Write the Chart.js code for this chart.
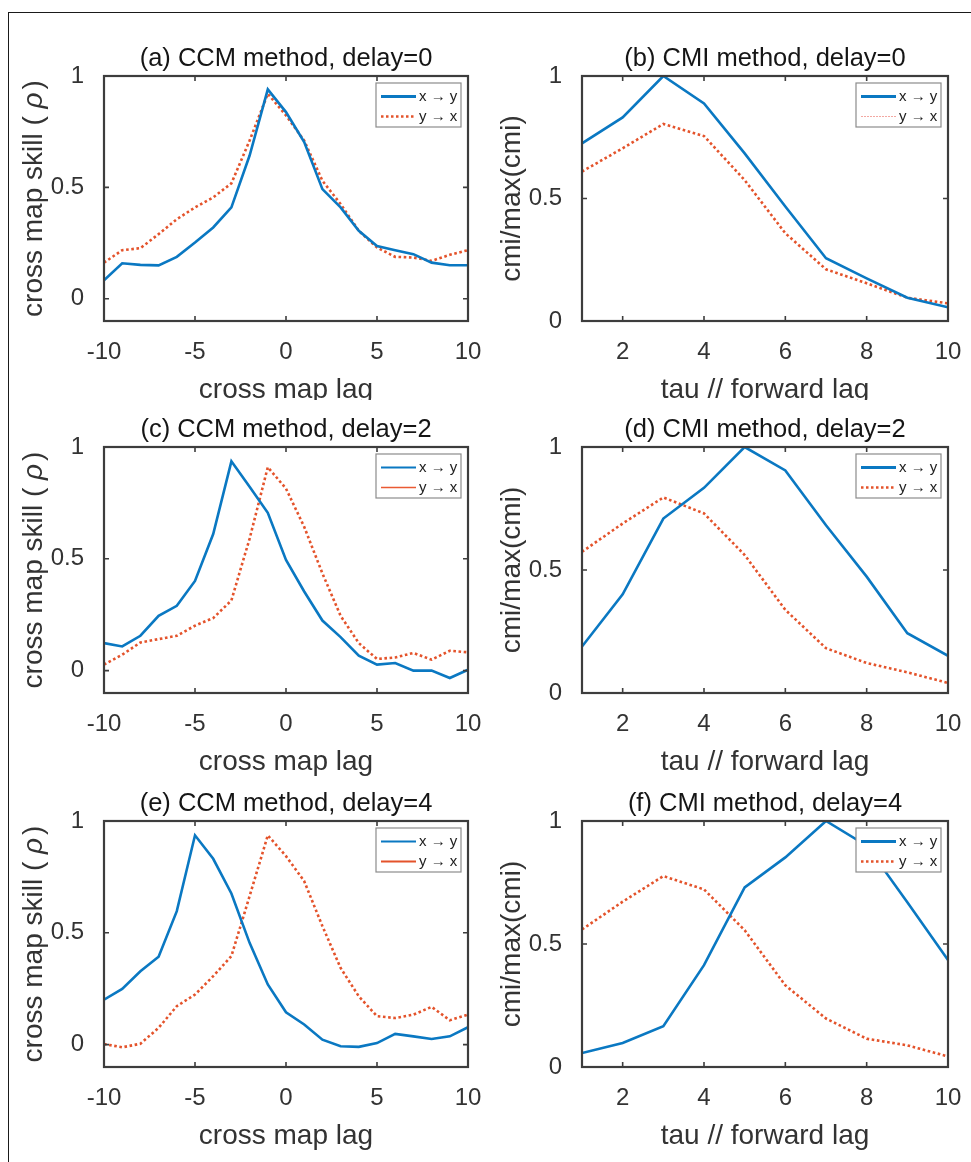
<!DOCTYPE html>
<html>
<head>
<meta charset="utf-8">
<script src="https://cdn.jsdelivr.net/npm/chart.js@4.4.1/dist/chart.umd.min.js"></script>
<style>
  body { margin: 0; background: #fff; }
  #page { position: relative; width: 971px; height: 1162px; overflow: hidden; background: #fff; }
  #frame { position: absolute; left: 8px; top: 12px; width: 980px; height: 1170px;
           border-top: 1px solid #1a1a1a; border-left: 1px solid #1a1a1a; }
  canvas { position: absolute; }
</style>
</head>
<body>
<div id="page">
  <div id="frame"></div>
  <canvas id="ccm0" width="486" height="386" style="left:0;top:14px"></canvas>
  <canvas id="cmi0" width="485" height="386" style="left:486px;top:14px"></canvas>
  <canvas id="ccm2" width="486" height="378" style="left:0;top:400px"></canvas>
  <canvas id="cmi2" width="485" height="378" style="left:486px;top:400px"></canvas>
  <canvas id="ccm4" width="486" height="384" style="left:0;top:778px"></canvas>
  <canvas id="cmi4" width="485" height="384" style="left:486px;top:778px"></canvas>
</div>
<script>
// lags / taus on the x axes
var ccmLags = [-10, -9, -8, -7, -6, -5, -4, -3, -2, -1, 0, 1, 2, 3, 4, 5, 6, 7, 8, 9, 10];
var cmiTaus = [1, 2, 3, 4, 5, 6, 7, 8, 9, 10];

// tick labels
var ccmLagTicks = [-10, -5, 0, 5, 10];
var cmiTauTicks = [2, 4, 6, 8, 10];
var skillTicks = [0, 0.5, 1];

// delay = 0
var ccmXyDelay0 = [0.083, 0.159, 0.152, 0.150, 0.188, 0.252, 0.320, 0.410, 0.643, 0.940, 0.838,
                   0.703, 0.492, 0.410, 0.305, 0.237, 0.218, 0.200, 0.162, 0.150, 0.150];
var ccmYxDelay0 = [0.162, 0.218, 0.227, 0.290, 0.357, 0.410, 0.455, 0.518, 0.710, 0.920, 0.823,
                   0.710, 0.530, 0.425, 0.305, 0.230, 0.188, 0.185, 0.170, 0.197, 0.218];
var cmiXyDelay0 = [0.725, 0.831, 1.000, 0.888, 0.684, 0.467, 0.256, 0.174, 0.095, 0.056];
var cmiYxDelay0 = [0.610, 0.705, 0.804, 0.755, 0.575, 0.358, 0.211, 0.154, 0.095, 0.072];

// delay = 2
var ccmXyDelay2 = [0.123, 0.108, 0.156, 0.245, 0.290, 0.401, 0.611, 0.936, 0.822, 0.706, 0.495,
                   0.354, 0.224, 0.150, 0.067, 0.027, 0.034, 0.000, 0.000, -0.033, 0.004];
var ccmYxDelay2 = [0.027, 0.071, 0.126, 0.141, 0.156, 0.201, 0.235, 0.314, 0.590, 0.910, 0.814,
                   0.643, 0.435, 0.245, 0.123, 0.052, 0.059, 0.079, 0.049, 0.089, 0.082];
var cmiXyDelay2 = [0.189, 0.401, 0.709, 0.834, 1.000, 0.905, 0.682, 0.473, 0.243, 0.151];
var cmiYxDelay2 = [0.574, 0.689, 0.795, 0.730, 0.561, 0.338, 0.182, 0.122, 0.084, 0.041];

// delay = 4
var ccmXyDelay4 = [0.201, 0.249, 0.328, 0.393, 0.597, 0.936, 0.831, 0.676, 0.455, 0.269, 0.145,
                   0.090, 0.022, -0.007, -0.010, 0.007, 0.048, 0.037, 0.025, 0.037, 0.078];
var ccmYxDelay4 = [0.003, -0.012, 0.004, 0.075, 0.172, 0.224, 0.306, 0.396, 0.664, 0.936, 0.843,
                   0.731, 0.530, 0.343, 0.216, 0.127, 0.119, 0.134, 0.169, 0.109, 0.134];
var cmiXyDelay4 = [0.057, 0.098, 0.166, 0.414, 0.730, 0.852, 1.000, 0.900, 0.670, 0.435];
var cmiYxDelay4 = [0.559, 0.672, 0.776, 0.722, 0.556, 0.332, 0.197, 0.115, 0.088, 0.043];

var BLUE = '#0a78c2';
var RED = '#e4532b';
var AXIS_GREY = '#3d3d3d';
var TEXT_GREY = '#333333';
var FONT = '"Liberation Sans", Arial, Helvetica, sans-serif';

// legend samples (each panel was saved with slightly different legend lines)
var legendThickDotted = [
    { label: 'x \u2192 y', color: BLUE, width: 3, dash: [] },
    { label: 'y \u2192 x', color: RED, width: 2.5, dash: [2.5, 2.5] }
];
var legendFaint = [
    { label: 'x \u2192 y', color: BLUE, width: 3, dash: [] },
    { label: 'y \u2192 x', color: 'rgba(235,110,100,0.6)', width: 1, dash: [2, 1] }
];
var legendThin = [
    { label: 'x \u2192 y', color: BLUE, width: 2, dash: [] },
    { label: 'y \u2192 x', color: '#ea5a33', width: 1.6, dash: [] }
];
var legendSolid = [
    { label: 'x \u2192 y', color: BLUE, width: 2, dash: [] },
    { label: 'y \u2192 x', color: RED, width: 2, dash: [] }
];

function seriesPoints(xs, ys) {
    return xs.map(function (x, i) { return { x: x, y: ys[i] }; });
}

function drawLegend(ctx, area, entries) {
    var w = 85, h = 44;
    var left = area.right - 7 - w, top = area.top + 7;
    ctx.fillStyle = '#ffffff';
    ctx.fillRect(left, top, w, h);
    ctx.strokeStyle = '#8c8c8c';
    ctx.lineWidth = 1.2;
    ctx.setLineDash([]);
    ctx.strokeRect(left, top, w, h);
    entries.forEach(function (e, i) {
        var y = top + 13.5 + i * 20;
        ctx.strokeStyle = e.color;
        ctx.lineWidth = e.width;
        ctx.setLineDash(e.dash);
        ctx.beginPath();
        ctx.moveTo(left + 5, y);
        ctx.lineTo(left + 40, y);
        ctx.stroke();
        ctx.setLineDash([]);
        ctx.fillStyle = '#222';
        ctx.font = '15px ' + FONT;
        ctx.textAlign = 'left';
        ctx.textBaseline = 'middle';
        ctx.fillText(e.label, left + 43, y);
    });
}

var panelDecor = {
    id: 'panelDecor',
    afterDatasetsDraw: function (chart, args, o) {
        var ctx = chart.ctx, a = chart.chartArea;
        var xs = chart.scales.x, ys = chart.scales.y;
        ctx.save();
        // ticks point inwards, on every side of the box
        ctx.strokeStyle = AXIS_GREY;
        ctx.lineWidth = 1.6;
        ctx.beginPath();
        xs.ticks.forEach(function (t) {
            var px = xs.getPixelForValue(t.value);
            ctx.moveTo(px, a.bottom); ctx.lineTo(px, a.bottom - 5);
            ctx.moveTo(px, a.top); ctx.lineTo(px, a.top + 5);
        });
        ys.ticks.forEach(function (t) {
            var py = ys.getPixelForValue(t.value);
            ctx.moveTo(a.left, py); ctx.lineTo(a.left + 5, py);
            ctx.moveTo(a.right, py); ctx.lineTo(a.right - 5, py);
        });
        ctx.stroke();
        ctx.lineWidth = 2.2;
        ctx.strokeRect(a.left, a.top, a.right - a.left, a.bottom - a.top);
        drawLegend(ctx, a, o.legend);
        ctx.restore();
    },
    afterDraw: function (chart, args, o) {
        var ctx = chart.ctx, a = chart.chartArea;
        var cx = (a.left + a.right) / 2, cy = (a.top + a.bottom) / 2;
        ctx.save();
        ctx.textBaseline = 'alphabetic';
        ctx.textAlign = 'center';

        ctx.fillStyle = '#151515';
        ctx.font = '25.5px ' + FONT;
        ctx.fillText(o.title, cx, a.top - 10.5);

        ctx.fillStyle = TEXT_GREY;
        ctx.font = '28px ' + FONT;
        ctx.fillText(o.xLabel, cx, a.bottom + 77);

        // y label, rotated; parts may switch to italic
        ctx.translate(a.left - 62, cy);
        ctx.rotate(-Math.PI / 2);
        ctx.textAlign = 'left';
        var total = 0;
        o.yLabel.forEach(function (p) {
            ctx.font = (p.italic ? 'italic ' : '') + '28px ' + FONT;
            total += ctx.measureText(p.text).width + (p.gap || 0);
        });
        var x = -total / 2;
        o.yLabel.forEach(function (p) {
            ctx.font = (p.italic ? 'italic ' : '') + '28px ' + FONT;
            ctx.fillText(p.text, x, 0);
            x += ctx.measureText(p.text).width + (p.gap || 0);
        });
        ctx.restore();
    }
};

var rhoLabel = [
    { text: 'cross map skill ( ' },
    { text: '\u03C1', italic: true, gap: 3 },
    { text: ')' }
];
var cmiLabel = [{ text: 'cmi/max(cmi)' }];

function makePanel(id, cfg) {
    var ctx = document.getElementById(id).getContext('2d');
    var xs = cfg.isCcm ? ccmLags : cmiTaus;
    return new Chart(ctx, {
        type: 'line',
        data: {
            datasets: [{
                label: 'x \u2192 y',
                data: seriesPoints(xs, cfg.xy),
                borderColor: BLUE,
                borderWidth: 2.6
            }, {
                label: 'y \u2192 x',
                data: seriesPoints(xs, cfg.yx),
                borderColor: RED,
                borderWidth: 2.6,
                borderDash: [2.6, 2.6]
            }]
        },
        options: {
            responsive: false,
            animation: false,
            layout: { padding: { top: cfg.top, right: cfg.isCcm ? 18 : 23, bottom: 0, left: 0 } },
            elements: { point: { radius: 0 }, line: { tension: 0 } },
            plugins: {
                legend: { display: false },
                tooltip: { enabled: false },
                panelDecor: {
                    title: cfg.title,
                    xLabel: cfg.isCcm ? 'cross map lag' : 'tau // forward lag',
                    yLabel: cfg.isCcm ? rhoLabel : cmiLabel,
                    legend: cfg.legend
                }
            },
            scales: {
                x: {
                    type: 'linear',
                    min: cfg.isCcm ? -10 : 1,
                    max: 10,
                    afterBuildTicks: function (s) {
                        s.ticks = (cfg.isCcm ? ccmLagTicks : cmiTauTicks).map(function (v) { return { value: v }; });
                    },
                    afterFit: function (s) {
                        s.height = cfg.bottom;
                        s.paddingLeft = 0;
                        s.paddingRight = 0;
                    },
                    grid: { display: false },
                    border: { display: false },
                    ticks: {
                        autoSkip: false, maxRotation: 0, padding: 9,
                        color: TEXT_GREY, font: { family: FONT, size: 24 },
                        callback: function (v) { return String(v); }
                    }
                },
                y: {
                    min: cfg.isCcm ? -0.1 : 0,
                    max: 1,
                    afterBuildTicks: function (s) {
                        s.ticks = skillTicks.map(function (v) { return { value: v }; });
                    },
                    afterFit: function (s) {
                        s.width = cfg.isCcm ? 104 : 96;
                        s.paddingTop = 0;
                        s.paddingBottom = 0;
                    },
                    grid: { display: false },
                    border: { display: false },
                    ticks: {
                        autoSkip: false, padding: 12,
                        color: TEXT_GREY, font: { family: FONT, size: 24 },
                        callback: function (v) { return String(v); }
                    }
                }
            }
        },
        plugins: [panelDecor]
    });
}

makePanel('ccm0', { isCcm: true, title: '(a) CCM method, delay=0', xy: ccmXyDelay0, yx: ccmYxDelay0,
                    top: 62, bottom: 79, legend: legendThickDotted });
makePanel('cmi0', { isCcm: false, title: '(b) CMI method, delay=0', xy: cmiXyDelay0, yx: cmiYxDelay0,
                    top: 62, bottom: 79, legend: legendFaint });
makePanel('ccm2', { isCcm: true, title: '(c) CCM method, delay=2', xy: ccmXyDelay2, yx: ccmYxDelay2,
                    top: 47, bottom: 85, legend: legendThin });
makePanel('cmi2', { isCcm: false, title: '(d) CMI method, delay=2', xy: cmiXyDelay2, yx: cmiYxDelay2,
                    top: 47, bottom: 85, legend: legendThickDotted });
makePanel('ccm4', { isCcm: true, title: '(e) CCM method, delay=4', xy: ccmXyDelay4, yx: ccmYxDelay4,
                    top: 43, bottom: 95, legend: legendSolid });
makePanel('cmi4', { isCcm: false, title: '(f) CMI method, delay=4', xy: cmiXyDelay4, yx: cmiYxDelay4,
                    top: 43, bottom: 95, legend: legendThickDotted });
</script>
</body>
</html>
